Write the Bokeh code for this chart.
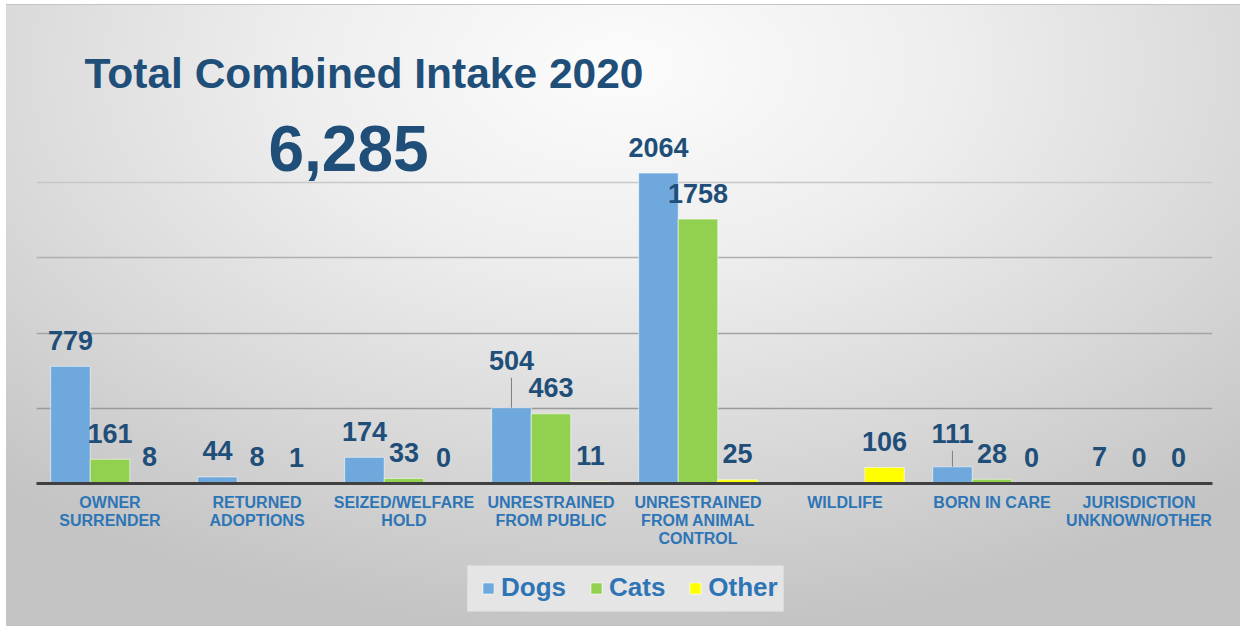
from bokeh.plotting import figure
from bokeh.layouts import column
from bokeh.models import (FactorRange, Range1d, ColumnDataSource, Legend, LegendItem,
                          Label, Grid, FixedTicker)
from bokeh.transform import dodge
from bokeh.embed import file_html
from bokeh.resources import INLINE
from bokeh.core.properties import value

# ---------------- data ----------------
categories = ["OWNER\nSURRENDER", "RETURNED\nADOPTIONS", "SEIZED/WELFARE\nHOLD",
              "UNRESTRAINED\nFROM PUBLIC", "UNRESTRAINED\nFROM ANIMAL\nCONTROL",
              "WILDLIFE", "BORN IN CARE", "JURISDICTION\nUNKNOWN/OTHER"]
dogs = [779, 44, 174, 504, 2064, None, 111, 7]
cats = [161, 8, 33, 463, 1758, None, 28, 0]
other = [8, 1, 0, 11, 25, 106, 0, 0]
series_names = ["Dogs", "Cats", "Other"]
title_text = "Total Combined Intake 2020"
total_text = "6,285"
grid_ticks = [500, 1000, 1500, 2000, 2500]

# ---------------- style ----------------
colors = ["#6fa8dc", "#92d050", "#ffff00"]
grid_colors = ["#9a9a9a", "#a2a2a2", "#b0b0b0", "#c8c8c8", "#d8d8d8"]
NAVY = "#1f4e79"
AXBLUE = "#2e75b6"
FONT = "Liberation Sans"

W = 1234
HM, HL = 550, 71                           # main figure / legend strip heights
FL, FR, FT, FB = 30, 28, 102, 72           # frame borders (px)
Y_MAX = 2500
frame_h = HM - FT - FB
upp = Y_MAX / frame_h                      # data units per pixel
bar_w = 0.269
offsets = [-bar_w, 0.0, bar_w]

p = figure(width=W, height=HM, output_backend="svg", toolbar_location=None,
           x_range=FactorRange(factors=categories, range_padding=0),
           y_range=Range1d(0, Y_MAX),
           min_border_left=FL, min_border_right=FR, min_border_top=FT, min_border_bottom=FB)
p.background_fill_alpha = 0
p.border_fill_alpha = 0
p.outline_line_color = None

p.title.text = title_text
p.title.text_font = FONT
p.title.text_font_style = "bold"
p.title.text_font_size = "42.5px"
p.title.text_color = NAVY
p.title.align = "left"
p.title.offset = 48
p.title.standoff = 22

p.xgrid.visible = False
p.ygrid.visible = False
p.yaxis.visible = False
for t, c in zip(grid_ticks, grid_colors):
    p.add_layout(Grid(dimension=1, ticker=FixedTicker(ticks=[t]),
                      grid_line_color=c, grid_line_width=1.5))

series = [dogs, cats, other]
for name, vals, off, col in zip(series_names, series, offsets, colors):
    src = ColumnDataSource(dict(cat=categories,
                                v=[float("nan") if v is None else v for v in vals]))
    p.vbar(x=dodge("cat", off, range=p.x_range), top="v", width=bar_w, source=src,
           fill_color=col, line_color="white", line_alpha=0.55, line_width=1)

# value labels
LABEL_PX = 26
extra_px = {(3, 0): 21, (6, 0): 7}          # labels lifted with leader lines
for si, (name, vals, off) in enumerate(zip(series_names, series, offsets)):
    cs, ys, ts = [], [], []
    lc, l0, l1 = [], [], []
    for ci, v in enumerate(vals):
        if v is None:
            continue
        ex = extra_px.get((ci, si), 0)
        cs.append(categories[ci]); ts.append(str(v))
        ys.append(v + (LABEL_PX + ex) * upp)
        if ex:
            lc.append(categories[ci]); l0.append(v); l1.append(v + (ex + 9) * upp)
    src = ColumnDataSource(dict(cat=cs, y=ys, t=ts))
    p.text(x=dodge("cat", off, range=p.x_range), y="y", text="t", source=src,
           text_align="center", text_baseline="middle", text_color=NAVY,
           text_font=value(FONT), text_font_style="bold", text_font_size="27px")
    if lc:
        lsrc = ColumnDataSource(dict(cat=lc, y0=l0, y1=l1))
        p.segment(x0=dodge("cat", off, range=p.x_range), y0="y0",
                  x1=dodge("cat", off, range=p.x_range), y1="y1", source=lsrc,
                  line_color="#7f7f7f", line_width=1)

# axis
ax = p.xaxis[0]
ax.axis_line_color = "#404040"
ax.axis_line_width = 3
ax.major_tick_line_color = None
ax.minor_tick_line_color = None
ax.major_label_standoff = 4
ax.major_label_text_color = AXBLUE
ax.major_label_text_font = FONT
ax.major_label_text_font_style = "bold"
ax.major_label_text_font_size = "16px"
ax.major_label_text_line_height = 1.08

# big total
p.add_layout(Label(x=(348 - 36) / 147, y=(483 - 148) * upp, text=total_text,
                   text_align="center", text_baseline="middle", text_color=NAVY,
                   text_font=FONT, text_font_style="bold", text_font_size="64px"))

# legend strip: pixel-scaled ranges so the legend panel can be placed exactly
p2 = figure(width=W, height=HL, output_backend="svg", toolbar_location=None,
            x_range=Range1d(0, W), y_range=Range1d(0, HL), min_border=0)
p2.background_fill_alpha = 0
p2.border_fill_alpha = 0
p2.outline_line_color = None
p2.axis.visible = False
p2.grid.visible = False
LEG_BG = "#e5e5e5"
p2.quad(left=[452], right=[784], bottom=[15], top=[61],
        fill_color=LEG_BG, line_color=None)
items = []
for name, col in zip(series_names, colors):
    # swatch-only renderer kept outside the visible strip
    r = p2.vbar(x=[-500], top=[-500], bottom=[-600], width=1, fill_color=col,
                line_color="white", line_alpha=0.7, line_width=1)
    items.append(LegendItem(label=name, renderers=[r]))
legend = Legend(items=items, orientation="horizontal", location=(445, 23))
legend.label_text_font = FONT
legend.label_text_font_style = "bold"
legend.label_text_font_size = "26px"
legend.label_text_color = AXBLUE
legend.glyph_width = 14
legend.glyph_height = 14
legend.label_standoff = 6
legend.spacing = 23
legend.padding = 0
legend.margin = 0
legend.background_fill_alpha = 0
legend.border_line_color = None
p2.add_layout(legend)

layout = column(p, p2, spacing=0,
                styles={"background": "radial-gradient(ellipse 75% 90% at 50% 10%, #fcfcfc 0%, #eeeeee 35%, #d8d8d8 70%, #c4c4c4 100%)",
                        "border-top": "1px solid #c4c4c4",
                        "margin-left": "6px", "margin-top": "4px"})

open("out.html", "w").write(file_html(layout, INLINE))
